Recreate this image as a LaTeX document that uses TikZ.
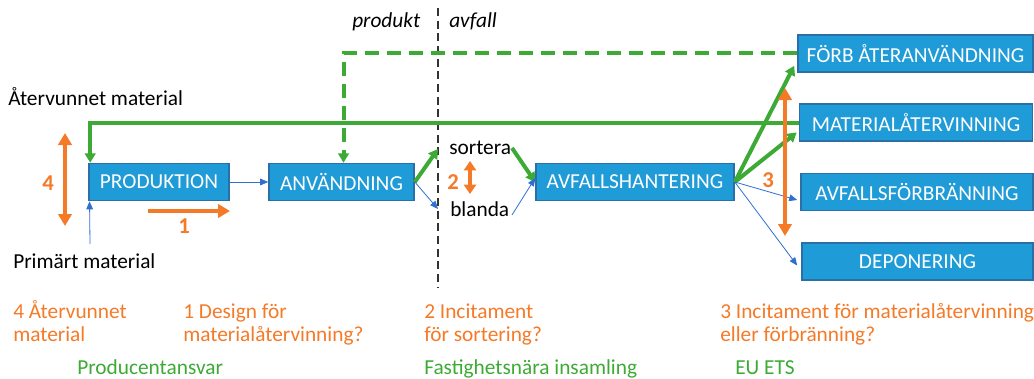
\documentclass[tikz,border=0pt]{standalone}
\usepackage{fontspec}
\setmainfont{Carlito}
\usetikzlibrary{arrows.meta,calc}
\definecolor{boxfill}{HTML}{1F9BD7}
\definecolor{boxline}{HTML}{2B6FA8}
\definecolor{grn}{HTML}{3DAA35}
\definecolor{org}{HTML}{F57A28}
\definecolor{blu}{HTML}{2E6FCF}
\begin{document}
\begin{tikzpicture}[x=0.75pt,y=-0.75pt,
  font=\fontsize{16}{19}\selectfont,
  box/.style={draw=boxline, fill=boxfill, text=white, line width=1.2pt, inner sep=0pt, minimum height={37*0.75pt}},
  gline/.style={draw=grn, line width=3pt, -{Triangle[length=7pt,width=8pt]}},
  bline/.style={draw=blu, line width=0.6pt, -{Triangle[length=6pt,width=5pt]}},
  oarrow/.style={draw=org, line width=3.2pt, -{Triangle[length=9pt,width=10pt]}},
  odouble/.style={draw=org, line width=3.2pt, {Triangle[length=9pt,width=10pt]}-{Triangle[length=9pt,width=10pt]}},
  onum/.style={text=org, font=\fontsize{17}{20}\selectfont\bfseries},
  otext/.style={text=org, anchor=base west, inner sep=0pt},
  gtext/.style={text=grn, anchor=base west, inner sep=0pt},
  ktext/.style={anchor=base west, inner sep=0pt},
]
\useasboundingbox (0,0) rectangle (1034,378);

% divider
\draw[black!80, line width=0.8pt, dash pattern=on 6pt off 3.5pt] (438,8) -- (438,287);
\node[ktext, font=\fontsize{16}{19}\selectfont\itshape] (prodt) at (352,28) {produkt};
\node[ktext, font=\fontsize{16}{19}\selectfont\itshape] (avft) at (449,28) {avfall};

% boxes
\node[box, minimum width={140*0.75pt}] (prod) at (159,182) {PRODUKTION};
\node[box, minimum width={145*0.75pt}] (anv) at (341.5,182) {ANVÄNDNING};
\node[box, minimum width={198*0.75pt}] (avf) at (635,182) {AVFALLSHANTERING};
\node[box, minimum width={235*0.75pt}] (forb) at (915.5,53.5) {FÖRB ÅTERANVÄNDNING};
\node[box, minimum width={233*0.75pt}] (mat) at (916,122.5) {MATERIALÅTERVINNING};
\node[box, minimum width={232*0.75pt}] (afb) at (917,192) {AVFALLSFÖRBRÄNNING};
\node[box, minimum width={231*0.75pt}] (dep) at (917.5,261.5) {DEPONERING};

% side texts
\node[ktext] (atv) at (8,105) {Återvunnet material};
\node[ktext] (prim) at (13,268) {Primärt material};
\node[ktext] (sort) at (449,154) {sortera};
\node[ktext] (bla) at (450,216) {blanda};

% green loops
\draw[gline] (mat.west) -| ([xshift=1.5]prod.north west);
\draw[gline, dash pattern=on 10.5pt off 6pt] (forb.west) -| ([xshift=1.5]anv.north);

% flows
\coordinate (primstart) at (90,244);
\draw[bline] (primstart) -- ([xshift=1]prod.south west);
\draw[bline] (prod.east) -- (anv.west);
\coordinate (sortin) at (438,149);
\coordinate (blain) at (438,209);
\draw[gline] (anv.east) -- (sortin);
\draw[bline] (anv.east) -- (blain);
\coordinate (sortout) at (512,148);
\coordinate (blaout) at (512,215);
\draw[gline] (sortout) -- ([yshift=0]avf.west);
\draw[bline] (blaout) -- ([yshift=3]avf.west);

\draw[gline] (avf.east) -- ($(forb.south west)+(-3,-7)$);
\draw[gline] (avf.east) -- ($(mat.west)+(-2,10)$);
\draw[bline] (avf.east) -- ($(afb.west)+(-3,8)$);
\draw[bline] (avf.east) -- ($(dep.west)+(-4,4)$);

% orange markers
\coordinate (o4a) at (65,133); \coordinate (o4b) at (65,226);
\draw[odouble] (o4a) -- (o4b);
\node[onum] (n4) at (48,183) {4};
\coordinate (o1a) at (148,211); \coordinate (o1b) at (230,211);
\draw[oarrow] (o1a) -- (o1b);
\node[onum] (n1) at (184,226) {1};
\coordinate (o2a) at (470,161); \coordinate (o2b) at (470,194);
\draw[draw=org, line width=3pt, {Triangle[length=7pt,width=9pt]}-{Triangle[length=7pt,width=9pt]}] (o2a) -- (o2b);
\node[onum] (n2) at (453,182) {2};
\coordinate (o3a) at (785,88); \coordinate (o3b) at (785,236);
\draw[odouble] (o3a) -- (o3b);
\node[onum] (n3) at (768,180) {3};

% bottom texts
\node[otext] (t4a) at (13,318) {4 Återvunnet};
\node[otext] (t4b) at (13,341) {material};
\node[otext] (t1a) at (183,318) {1 Design för};
\node[otext] (t1b) at (183,341) {materialåtervinning?};
\node[otext] (t2a) at (424,318) {2 Incitament};
\node[otext] (t2b) at (424,341) {för sortering?};
\node[otext] (t3a) at (720,318) {3 Incitament för materialåtervinning};
\node[otext] (t3b) at (720,341) {eller förbränning?};
\node[gtext] (g1) at (77,374) {Producentansvar};
\node[gtext] (g2) at (424,374) {Fastighetsnära insamling};
\node[gtext] (g3) at (735,374) {EU ETS};
\end{tikzpicture}
\end{document}
